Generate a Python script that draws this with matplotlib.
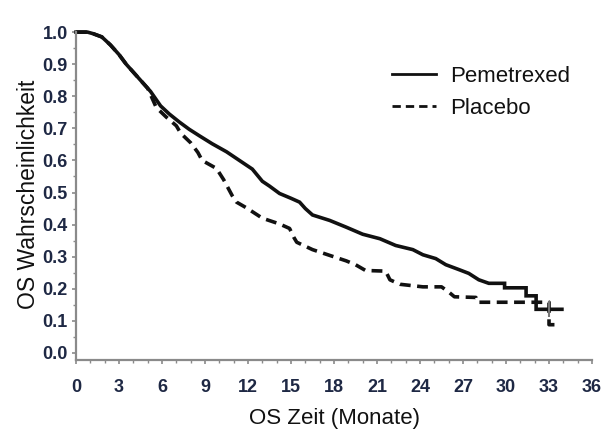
import matplotlib
matplotlib.use("Agg")
import matplotlib.pyplot as plt
from matplotlib.ticker import MultipleLocator
from matplotlib import font_manager

# ---- data ----
pem_t = [0, 0.8, 1.2, 1.8, 2.4, 3.0, 3.5, 4.0, 4.7, 5.2, 5.9, 6.5, 7.2, 7.9, 8.6, 9.5,
         10.5, 11.0, 11.9, 12.3, 13.0, 13.5, 14.2, 15.0, 15.6, 16.0, 16.5, 17.7, 18.85,
         20.0, 21.2, 22.3, 23.5, 24.2, 25.1, 25.8, 26.7, 27.4, 28.1, 28.8, 29.9, 29.9,
         31.4, 31.4, 32.1, 32.1, 33.9]
pem_s = [1.0, 1.0, 0.995, 0.985, 0.96, 0.93, 0.9, 0.875, 0.84, 0.815, 0.77, 0.745,
         0.72, 0.697, 0.677, 0.652, 0.627, 0.612, 0.585, 0.573, 0.535, 0.52, 0.497,
         0.482, 0.47, 0.45, 0.43, 0.413, 0.392, 0.37, 0.356, 0.335, 0.322, 0.306, 0.294,
         0.275, 0.26, 0.248, 0.228, 0.217, 0.217, 0.203, 0.203, 0.178, 0.178, 0.136,
         0.136]

pla_t = [0, 0.8, 1.2, 1.8, 2.4, 3.0, 3.5, 4.0, 4.7, 5.0, 5.3, 5.6, 6.3, 7.0, 7.3, 8.0,
         8.5, 8.8, 9.8, 10.3, 10.9, 11.2, 11.9, 13.0, 14.2, 14.9, 15.2, 15.4, 16.5, 17.7,
         18.85, 19.5, 20.2, 21.6, 21.9, 22.6, 24.2, 25.5, 26.0, 26.4, 27.9, 28.0, 33.0,
         33.0, 33.5]
pla_s = [1.0, 1.0, 0.995, 0.985, 0.96, 0.93, 0.9, 0.875, 0.84, 0.825, 0.795, 0.765,
         0.735, 0.708, 0.685, 0.655, 0.625, 0.6, 0.575, 0.54, 0.49, 0.47, 0.452, 0.42,
         0.402, 0.388, 0.36, 0.345, 0.322, 0.304, 0.287, 0.275, 0.257, 0.255, 0.228,
         0.214, 0.206, 0.206, 0.19, 0.175, 0.173, 0.158, 0.158, 0.088, 0.088]

censor_t = [33.0]
censor_s = [0.136]

series_labels = ["Pemetrexed", "Placebo"]
x_ticks = list(range(0, 37, 3))
y_ticks = [i / 10 for i in range(11)]
x_label = "OS Zeit (Monate)"
y_label = "OS Wahrscheinlichkeit"

# ---- fonts ----
available = {f.name for f in font_manager.fontManager.ttflist}
tick_family = ["Liberation Sans Narrow", "Liberation Sans", "DejaVu Sans"]
tick_family = [f for f in tick_family if f in available] or ["DejaVu Sans"]
text_family = ["Liberation Sans", "DejaVu Sans"]

fig = plt.figure(figsize=(6.14, 4.30), dpi=100)
ax = fig.add_axes([0.1238, 0.1628, 0.8404, 0.770])

ax.plot(pem_t, pem_s, color="#111111", lw=2.6, solid_joinstyle="miter",
        label=series_labels[0], clip_on=False)
ax.plot(pla_t, pla_s, color="#111111", lw=2.6, linestyle=(0, (3, 1.8)),
        dash_capstyle="butt", label=series_labels[1], clip_on=False)
ax.plot(censor_t, censor_s, linestyle="none", marker="|", markersize=12,
        markeredgewidth=1.5, color="#777777")

ax.set_xlim(0, 36)
ax.set_ylim(-0.022, 1.01)

for s in ["top", "right"]:
    ax.spines[s].set_visible(False)
for s in ["left", "bottom"]:
    ax.spines[s].set_color("#8a8a8a")
    ax.spines[s].set_linewidth(1.6)
ax.spines["left"].set_bounds(-0.022, 1.0)

ax.set_xticks(x_ticks)
ax.set_yticks(y_ticks)
ax.xaxis.set_minor_locator(MultipleLocator(1))
ax.yaxis.set_minor_locator(MultipleLocator(0.05))
ax.set_xticklabels([str(v) for v in x_ticks])
ax.set_yticklabels([f"{v:.1f}" for v in y_ticks])
ax.tick_params(which="major", direction="out", length=3, width=1.2, color="#8a8a8a",
               labelsize=13, labelcolor="#1e2844", pad=3)
ax.tick_params(which="minor", direction="out", length=2.2, width=1.0, color="#8a8a8a")
ax.tick_params(axis="x", which="major", pad=11)
for lab in ax.get_xticklabels() + ax.get_yticklabels():
    lab.set_family(tick_family)
    lab.set_fontweight("bold")

ax.set_xlabel(x_label, fontsize=16, family=text_family, color="#111111", labelpad=8)
ax.set_ylabel(y_label, fontsize=16.5, family=text_family, color="#111111", labelpad=2)

leg = ax.legend(loc="upper left", bbox_to_anchor=(0.595, 0.915), frameon=False,
                prop={"family": text_family, "size": 16}, handlelength=2.0,
                handletextpad=0.6, labelspacing=0.5, borderaxespad=0)
for t in leg.get_texts():
    t.set_color("#111111")
for h in leg.get_lines():
    h.set_linewidth(2.0)

fig.savefig("out.png", dpi=100)
